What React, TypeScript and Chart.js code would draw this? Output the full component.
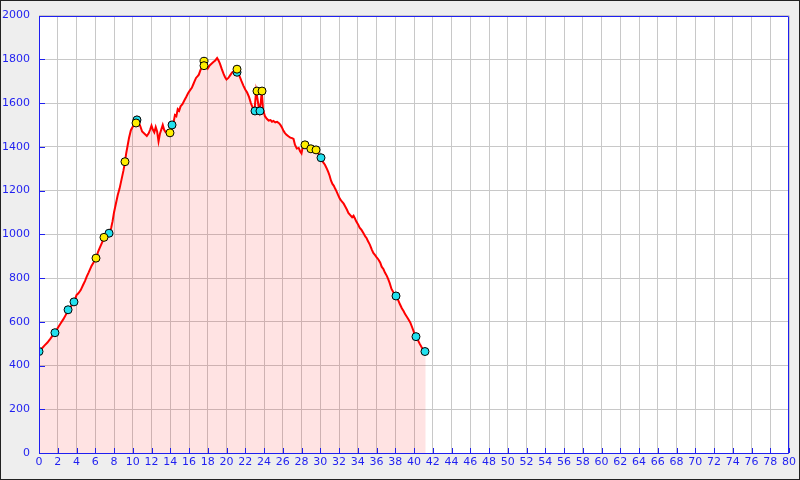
import React, { useEffect, useRef } from "react";
import { Chart, registerables } from "chart.js";

Chart.register(...registerables);

const distKm = [
  0, 0.3, 0.6, 0.9, 1.2, 1.5, 1.7, 2.0, 2.3, 2.6, 2.9, 3.13, 3.4, 3.6, 3.77, 4.0, 4.2, 4.45, 4.7, 4.9,
  5.1, 5.3, 5.44, 5.6, 5.8, 6.08, 6.3, 6.5, 6.7, 6.97, 7.2, 7.5, 7.7, 7.85, 8.0, 8.2, 8.4, 8.6, 8.8, 9.0,
  9.17, 9.3, 9.45, 9.6, 9.8, 10.0, 10.24, 10.45, 10.6, 10.8, 11.0, 11.2, 11.5, 11.7, 11.85, 12.0, 12.15, 12.3, 12.45, 12.6,
  12.75, 12.9, 13.05, 13.2, 13.35, 13.5, 13.7, 13.97, 14.1, 14.3, 14.5, 14.65, 14.8, 14.95, 15.1, 15.3, 15.5, 15.7, 15.9, 16.1,
  16.3, 16.45, 16.6, 16.75, 16.9, 17.05, 17.2, 17.4, 17.64, 17.8, 18.0, 18.2, 18.4, 18.6, 18.8, 19.0, 19.15, 19.3, 19.5, 19.7,
  19.85, 20.0, 20.2, 20.4, 20.6, 20.8, 21.15, 21.4, 21.6, 21.8, 22.0, 22.2, 22.4, 22.6, 22.8, 22.98, 23.16, 23.3, 23.5, 23.65,
  23.76, 23.9, 24.1, 24.3, 24.5, 24.7, 24.85, 25.0, 25.2, 25.4, 25.6, 25.75, 25.9, 26.05, 26.2, 26.4, 26.6, 26.8, 27.0, 27.15,
  27.3, 27.5, 27.7, 27.85, 28.0, 28.1, 28.37, 28.6, 28.98, 29.3, 29.55, 29.8, 30.08, 30.3, 30.5, 30.7, 30.85, 31.0, 31.15, 31.3,
  31.45, 31.6, 31.75, 31.9, 32.1, 32.3, 32.5, 32.65, 32.85, 33.0, 33.2, 33.4, 33.55, 33.7, 33.85, 34.05, 34.2, 34.4, 34.6, 34.8,
  34.95, 35.1, 35.3, 35.5, 35.66, 35.85, 36.0, 36.2, 36.4, 36.55, 36.75, 36.9, 37.1, 37.25, 37.4, 37.6, 37.8, 38.08, 38.3, 38.5,
  38.7, 38.9, 39.05, 39.25, 39.4, 39.6, 39.8, 40.0, 40.2, 40.4, 40.6, 40.8, 41.0, 41.25,
];

const elevM = [
  463, 478, 492, 505, 522, 540, 551, 572, 592, 612, 635, 653, 670, 680, 691, 722, 730, 745, 768, 786,
  808, 826, 840, 855, 870, 889, 920, 940, 960, 986, 998, 1005, 1030, 1060, 1100, 1140, 1180, 1210, 1250, 1290,
  1330, 1370, 1405, 1440, 1476, 1492, 1506, 1532, 1515, 1495, 1470, 1462, 1450, 1462, 1478, 1497, 1478, 1466, 1490, 1470,
  1425, 1460, 1480, 1500, 1478, 1468, 1462, 1460, 1475, 1500, 1545, 1540, 1572, 1565, 1585, 1595, 1612, 1628, 1645, 1658,
  1670, 1685, 1700, 1715, 1722, 1730, 1748, 1768, 1780, 1775, 1758, 1772, 1780, 1788, 1795, 1806, 1795, 1780, 1755, 1732,
  1718, 1708, 1715, 1728, 1740, 1746, 1745, 1722, 1700, 1680, 1662, 1648, 1628, 1600, 1578, 1565, 1655, 1620, 1565, 1600,
  1655, 1570, 1540, 1528, 1520, 1522, 1515, 1518, 1512, 1514, 1508, 1500, 1490, 1476, 1465, 1455, 1448, 1442, 1440, 1436,
  1410, 1392, 1395, 1380, 1370, 1392, 1408, 1398, 1392, 1388, 1385, 1370, 1350, 1330, 1318, 1300, 1285, 1268, 1245, 1230,
  1222, 1208, 1195, 1180, 1162, 1150, 1140, 1128, 1112, 1098, 1088, 1078, 1085, 1072, 1058, 1044, 1030, 1020, 1006, 990,
  982, 968, 952, 930, 915, 905, 896, 885, 870, 852, 840, 825, 810, 795, 778, 750, 735, 718, 700, 680,
  662, 648, 635, 622, 612, 597, 575, 552, 532, 518, 500, 485, 472, 460,
];

const cyanKm = [0, 1.7, 3.1, 3.73, 7.47, 10.45, 14.19, 21.12, 23.04, 23.57, 30.08, 38.08, 40.21, 41.17];
const cyanElev = [464, 550, 655, 691, 1005, 1523, 1500, 1741, 1564, 1564, 1350, 718, 532, 464];

const yellowKm = [6.08, 6.93, 9.17, 10.35, 13.97, 17.6, 17.6, 21.12, 23.25, 23.79, 28.37, 29.0, 29.55];
const yellowElev = [891, 986, 1332, 1509, 1464, 1791, 1771, 1755, 1655, 1655, 1409, 1391, 1386];

const xTickStep = 2;
const yTickStep = 200;

const axisBlue = "#1f1ff0";

const plotBackground = {
  id: "plotBackground",
  beforeDraw(chart: any) {
    const { ctx, chartArea } = chart;
    ctx.save();
    ctx.fillStyle = "#ffffff";
    ctx.fillRect(chartArea.left, chartArea.top, chartArea.right - chartArea.left, chartArea.bottom - chartArea.top);
    ctx.restore();
  },
};

const frameTicks = {
  id: "frameTicks",
  afterDatasetsDraw(chart: any) {
    const { ctx, chartArea } = chart;
    const { left, right, top, bottom } = chartArea;
    ctx.save();
    ctx.strokeStyle = axisBlue;
    ctx.lineWidth = 1;
    ctx.beginPath();
    ctx.rect(Math.round(left) + 0.5, Math.round(top) + 0.5, Math.round(right - left) - 1, Math.round(bottom - top));
    ctx.stroke();
    const xs = chart.scales.x;
    const ys = chart.scales.y;
    ctx.beginPath();
    xs.ticks.forEach((t: any) => {
      const px = Math.round(xs.getPixelForValue(t.value)) + 0.5;
      ctx.moveTo(px, bottom);
      ctx.lineTo(px, bottom - 5);
    });
    ys.ticks.forEach((t: any) => {
      const py = Math.round(ys.getPixelForValue(t.value)) + 0.5;
      ctx.moveTo(left, py);
      ctx.lineTo(left + 6, py);
    });
    ctx.stroke();
    ctx.restore();
  },
};

export default function App() {
  const ref = useRef<HTMLCanvasElement>(null);

  useEffect(() => {
    document.body.style.margin = "0";
    const profile = distKm.map((x, i) => ({ x, y: elevM[i] }));
    const cyan = cyanKm.map((x, i) => ({ x, y: cyanElev[i] }));
    const yellow = yellowKm.map((x, i) => ({ x, y: yellowElev[i] }));
    const chart = new Chart(ref.current as HTMLCanvasElement, {
      type: "line",
      data: {
        datasets: [
          {
            data: yellow,
            showLine: false,
            pointRadius: 4,
            pointBackgroundColor: "#ffee00",
            pointBorderColor: "#000000",
            pointBorderWidth: 1,
          },
          {
            data: cyan,
            showLine: false,
            pointRadius: 4,
            pointBackgroundColor: "#22e0ee",
            pointBorderColor: "#000000",
            pointBorderWidth: 1,
          },
          {
            data: profile,
            borderColor: "#ff0000",
            borderWidth: 2,
            pointRadius: 0,
            fill: "origin",
            backgroundColor: "rgba(255,0,0,0.11)",
            tension: 0,
          },
        ],
      },
      options: {
        animation: false,
        responsive: false,
        maintainAspectRatio: false,
        layout: { padding: { top: 13, right: 11, left: 0, bottom: 0 } },
        plugins: { legend: { display: false }, tooltip: { enabled: false } },
        scales: {
          x: {
            type: "linear",
            min: 0,
            max: 80,
            afterFit: (s: any) => {
              s.height = 27;
            },
            ticks: {
              stepSize: xTickStep,
              color: axisBlue,
              font: { family: "DejaVu Sans", size: 11 },
              padding: 3,
              maxRotation: 0,
              autoSkip: false,
              callback: (v: any) => String(v),
            },
            grid: { color: "#c8c8c8", drawTicks: false },
            border: { display: false },
          },
          y: {
            min: 0,
            max: 2000,
            afterFit: (s: any) => {
              s.width = 39;
            },
            ticks: {
              stepSize: yTickStep,
              color: axisBlue,
              font: { family: "DejaVu Sans", size: 11 },
              padding: 9,
              callback: (v: any) => String(v),
            },
            grid: { color: "#c8c8c8", drawTicks: false },
            border: { display: false },
          },
        },
      },
      plugins: [plotBackground, frameTicks],
    });
    return () => chart.destroy();
  }, []);

  return (
    <div
      style={{
        position: "fixed",
        left: 0,
        top: 0,
        width: 800,
        height: 480,
        background: "#eeeeee",
        border: "1px solid #222",
        boxSizing: "border-box",
      }}
    >
      <canvas
        ref={ref}
        width={800}
        height={480}
        style={{ position: "absolute", left: -1, top: -1, width: 800, height: 480 }}
      />
    </div>
  );
}
